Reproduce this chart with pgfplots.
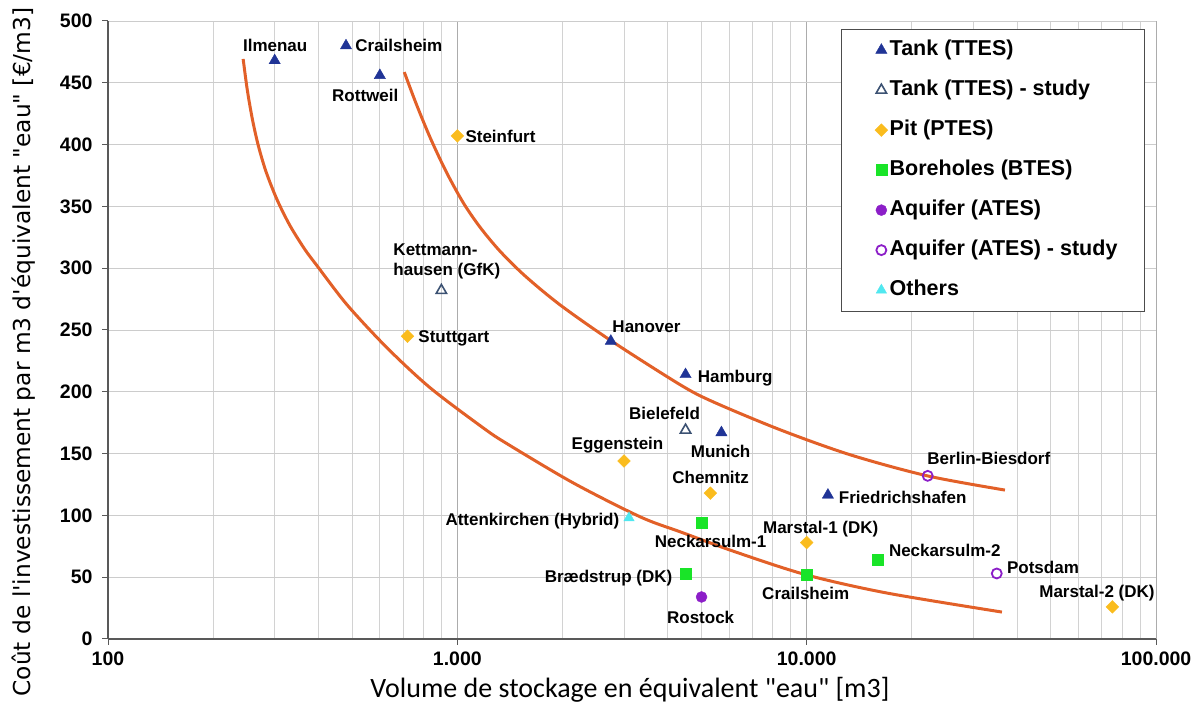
\documentclass[border=0pt]{standalone}
\usepackage{fontspec}
\setmainfont{Liberation Sans}
\newfontfamily\carlito{Carlito}
\newfontfamily\dejavu{DejaVu Sans}
\usepackage{graphicx}
\usepackage{pgfplots}
\pgfplotsset{compat=1.18}

\definecolor{tankblue}{RGB}{32,52,150}
\definecolor{studyblue}{RGB}{60,82,115}
\definecolor{pitorange}{RGB}{250,188,30}
\definecolor{boregreen}{RGB}{25,228,40}
\definecolor{aquipurple}{RGB}{140,30,200}
\definecolor{othercyan}{RGB}{80,232,240}
\definecolor{curveorange}{RGB}{226,96,40}

\tikzset{lab/.style={font=\fontsize{17}{20}\selectfont\bfseries, inner sep=0pt, text height=12.2pt, text depth=0pt}}

\begin{document}
\begin{tikzpicture}
\useasboundingbox (-108pt,-69pt) rectangle (1093pt,639pt);
\begin{axis}[
  at={(0pt,0pt)}, anchor=south west,
  scale only axis, width=1048pt, height=618pt,
  xmode=log, xmin=100, xmax=100000, ymin=0, ymax=500,
  xtick={100,1000,10000,100000},
  xticklabels={100,1.000,10.000,100.000},
  minor xtick={200,300,400,500,600,700,800,900,2000,3000,4000,5000,6000,7000,8000,9000,20000,30000,40000,50000,60000,70000,80000,90000},
  ytick={0,50,100,150,200,250,300,350,400,450,500},
  xmajorgrids, xminorgrids, ymajorgrids,
  major grid style={draw=gray!65, line width=0.9pt},
  minor grid style={draw=gray!35, line width=0.9pt},
  y grid style={draw=gray!40, line width=0.9pt},
  axis x line*=bottom, axis y line*=left,
  axis line style={draw=gray!70!black, line width=1.3pt, -},
  tick align=outside, major tick length=6pt, minor tick length=0pt,
  tick style={draw=gray!70!black, line width=1pt},
  /pgf/number format/assume math mode=true,
  every tick label/.append style={font=\fontsize{19.5}{19.5}\selectfont\bfseries},
  yticklabel style={xshift=-6pt},
  xticklabel style={yshift=-3pt},
  clip=false,
  xlabel={Volume de stockage en équivalent "eau" [m3]},
  ylabel={Coût de l'investissement par m3 d'équivalent "eau" [€/m3]},
  xlabel style={font=\carlito\fontsize{28}{28}\selectfont, at={(axis description cs:0.498,-0.0825)}, anchor=center},
  ylabel style={font=\dejavu\fontsize{23.3}{23.3}\selectfont, at={(axis description cs:-0.0802,0.4644)}, anchor=center},
  legend style={at={(axis description cs:0.9895,0.987)}, anchor=north east,
    draw=gray!60!black, line width=1.2pt, fill=white,
    font=\fontsize{21.5}{21.5}\selectfont\bfseries,
    inner xsep=25pt, inner ysep=11pt, row sep=20pt,
    nodes={inner ysep=0pt, inner xsep=2pt, text height=15pt, text depth=5pt},
    /tikz/every even column/.append style={column sep=4pt}},
  legend cell align=left,
  legend image code/.code={\path (-9pt,0pt); \draw[mark repeat=2,mark phase=2,#1] plot coordinates {(0pt,0.5pt) (5pt,0.5pt) (10pt,0.5pt)};},
]
% curves
\addplot[curveorange, line width=3pt, smooth, forget plot] coordinates {
 (243.7,469.3) (250.2,445.0) (258.6,421.5) (269.0,399.7) (283.6,377.8) (305.0,355.2)
 (332.2,334.2) (366.8,314.8) (397.1,301.8) (484.0,270.2) (630.1,235.4) (836.9,203.1)
 (1187,170.7) (1391,157.8) (2149,126.2) (3345,98.7) (4356,86.6) (6259,70.4)
 (10000,51.8) (16956,37.2) (36210,21.8)};
\addplot[curveorange, line width=3pt, smooth, forget plot] coordinates {
 (704.7,458.7) (763.0,432.8) (836.9,405.3) (930.0,377.8) (1040.4,352.8) (1163.9,332.8)
 (1328.1,313.4) (1566.0,293.5) (1973,270.1) (2762,241.1) (4356,205.5) (5414,191.7)
 (8424,169.1) (13370,148.9) (22220,131.9) (36930,120.5)};
% markers
\addplot[only marks, mark=triangle*, mark size=6.5pt, color=tankblue, mark options={line width=0.4pt}]
 coordinates {(300,468) (480,480) (600,456) (2750,241) (4500,214) (5700,167) (11500,116.5)};
\addlegendentry{Tank (TTES)}
\addplot[only marks, mark=triangle, mark size=6pt, color=studyblue, mark options={line width=1.6pt}]
 coordinates {(900,282) (4500,169)};
\addlegendentry{Tank (TTES) - study}
\addplot[only marks, mark=square*, mark size=4.5pt, color=pitorange, mark options={rotate=45, line width=0.4pt}]
 coordinates {(1000,407) (720,245) (3000,144) (5300,118) (10000,78) (75000,26)};
\addlegendentry{Pit (PTES)}
\addplot[only marks, mark=square*, mark size=5.5pt, color=boregreen, mark options={line width=0.4pt}]
 coordinates {(5000,94) (4500,53) (10000,52) (16000,64)};
\addlegendentry{Boreholes (BTES)}
\addplot[only marks, mark=*, mark size=5.5pt, color=aquipurple, mark options={line width=0.4pt}]
 coordinates {(5000,34)};
\addlegendentry{Aquifer (ATES)}
\addplot[only marks, mark=o, mark size=5pt, color=aquipurple, mark options={line width=1.8pt}]
 coordinates {(22200,132) (35000,53)};
\addlegendentry{Aquifer (ATES) - study}
\addplot[only marks, mark=triangle*, mark size=6pt, color=othercyan, mark options={line width=0.4pt}]
 coordinates {(3100,98)};
\addlegendentry{Others}
% labels
\node[lab, anchor=center] at (axis cs:301,480.6) {Ilmenau};
\node[lab, anchor=west] at (axis cs:510,480) {Crailsheim};
\node[lab, anchor=center] at (axis cs:545,440) {Rottweil};
\node[lab, anchor=west] at (axis cs:1054,407) {Steinfurt};
\node[font=\fontsize{17}{20}\selectfont\bfseries, inner sep=0pt, align=left, anchor=west] at (axis cs:655.6,305.8) {Kettmann-\\hausen (GfK)};
\node[lab, anchor=west] at (axis cs:773,245) {Stuttgart};
\node[lab, anchor=center] at (axis cs:3479,253.2) {Hanover};
\node[lab, anchor=west] at (axis cs:4872,212.8) {Hamburg};
\node[lab, anchor=center] at (axis cs:3918,182.8) {Bielefeld};
\node[lab, anchor=center] at (axis cs:5669,152) {Munich};
\node[lab, anchor=center] at (axis cs:2874,158.6) {Eggenstein};
\node[lab, anchor=center] at (axis cs:5308,131) {Chemnitz};
\node[lab, anchor=center] at (axis cs:33220,146.4) {Berlin-Biesdorf};
\node[lab, anchor=west] at (axis cs:12350,114.9) {Friedrichshafen};
\node[lab, anchor=east] at (axis cs:2912,97) {Attenkirchen (Hybrid)};
\node[lab, anchor=center] at (axis cs:5308,79.3) {Neckarsulm-1};
\node[lab, anchor=center] at (axis cs:10967,90.6) {Marstal-1 (DK)};
\node[lab, anchor=west] at (axis cs:17180,72) {Neckarsulm-2};
\node[lab, anchor=west] at (axis cs:37410,58.2) {Potsdam};
\node[lab, anchor=center] at (axis cs:67760,38.8) {Marstal-2 (DK)};
\node[lab, anchor=east] at (axis cs:4130,51) {Brædstrup (DK)};
\node[lab, anchor=center] at (axis cs:9934,37.2) {Crailsheim};
\node[lab, anchor=center] at (axis cs:4970,17.8) {Rostock};
\end{axis}
\end{tikzpicture}
\end{document}
